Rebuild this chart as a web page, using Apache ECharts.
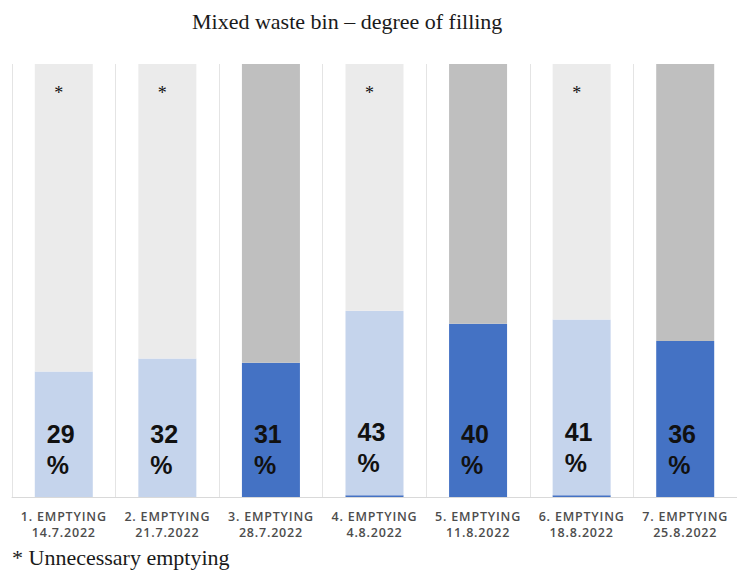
<!DOCTYPE html>
<html>
<head>
<meta charset="utf-8">
<script src="https://cdn.jsdelivr.net/npm/echarts@6/dist/echarts.min.js"></script>
<style>
  html, body { margin: 0; padding: 0; background: #ffffff; }
  #chart { width: 737px; height: 577px; }
  #chart text[style*="Open Sans"] { letter-spacing: 0.8px; }
</style>
</head>
<body>
<div id="chart"></div>
<script>
// ---- data ----
const categories = [
  "1. EMPTYING\n14.7.2022",
  "2. EMPTYING\n21.7.2022",
  "3. EMPTYING\n28.7.2022",
  "4. EMPTYING\n4.8.2022",
  "5. EMPTYING\n11.8.2022",
  "6. EMPTYING\n18.8.2022",
  "7. EMPTYING\n25.8.2022"
];
const fillPercent = [29, 32, 31, 43, 40, 41, 36];
// filling of necessary emptyings (dark blue) and unnecessary emptyings (light blue)
const necessaryFill = [null, null, 31, 0.4, 40, 0.4, 36];
const unnecessaryFill = [29, 32, null, 42.6, null, 40.6, null];
// remaining empty capacity
const necessaryRemainder = [null, null, 69, null, 60, null, 64];
const unnecessaryRemainder = [71, 68, null, 57, null, 59, null];
const starMark = "*";
const titleText = "Mixed waste bin \u2013 degree of filling";
const footnoteText = "* Unnecessary emptying";

// ---- chart ----
const chart = echarts.init(document.getElementById('chart'), null, { renderer: 'svg' });

const pctLabel = {
  show: true,
  position: 'insideBottomLeft',
  distance: 12,
  offset: [0, -5],
  align: 'left',
  fontFamily: 'Liberation Sans, Arial, sans-serif',
  fontWeight: 'bold',
  fontSize: 25,
  lineHeight: 31,
  color: '#111111',
  formatter: function (p) {
    if (p.value == null || p.value < 5) return '';
    return fillPercent[p.dataIndex] + '\n%';
  }
};

const barW = 58;

chart.setOption({
  backgroundColor: '#ffffff',
  animation: false,
  title: [
    {
      text: titleText,
      left: 187,
      top: 5,
      textStyle: {
        fontFamily: 'Liberation Serif, Times New Roman, serif',
        fontWeight: 'normal',
        fontSize: 22,
        color: '#1a1a1a'
      }
    },
    {
      text: footnoteText,
      left: 7,
      top: 541,
      textStyle: {
        fontFamily: 'Liberation Serif, Times New Roman, serif',
        fontWeight: 'normal',
        fontSize: 22,
        color: '#1a1a1a'
      }
    }
  ],
  grid: { left: 12, right: -2, top: 64, bottom: 80, containLabel: false },
  xAxis: {
    type: 'category',
    data: categories,
    axisLine: { show: true, lineStyle: { color: '#d9d9d9', width: 1 } },
    axisTick: { show: false },
    splitLine: { show: true, interval: 0, lineStyle: { color: '#e4e4e4', width: 1 } },
    axisLabel: {
      interval: 0,
      margin: 11,
      fontFamily: 'Open Sans',
      fontWeight: 600,
      fontSize: 12.5,
      lineHeight: 16.5,
      color: '#4d4d4d'
    }
  },
  yAxis: {
    type: 'value',
    min: 0,
    max: 100,
    show: false,
    splitLine: { show: false }
  },
  series: [
    {
      name: 'Necessary',
      type: 'bar',
      stack: 'bin',
      barWidth: barW,
      data: necessaryFill,
      itemStyle: { color: '#4472c4' },
      label: pctLabel
    },
    {
      name: 'Unnecessary',
      type: 'bar',
      stack: 'bin',
      barWidth: barW,
      data: unnecessaryFill,
      itemStyle: { color: '#c5d4ec' },
      label: pctLabel
    },
    {
      name: 'Necessary remainder',
      type: 'bar',
      stack: 'bin',
      barWidth: barW,
      data: necessaryRemainder,
      itemStyle: { color: '#bfbfbf' }
    },
    {
      name: 'Unnecessary remainder',
      type: 'bar',
      stack: 'bin',
      barWidth: barW,
      data: unnecessaryRemainder,
      itemStyle: { color: '#ebebeb' },
      label: {
        show: true,
        position: 'insideTop',
        distance: 20,
        offset: [-5, 0],
        fontFamily: 'Liberation Serif, Times New Roman, serif',
        fontSize: 18,
        color: '#111111',
        formatter: function () { return starMark; }
      }
    }
  ]
});
</script>
</body>
</html>
